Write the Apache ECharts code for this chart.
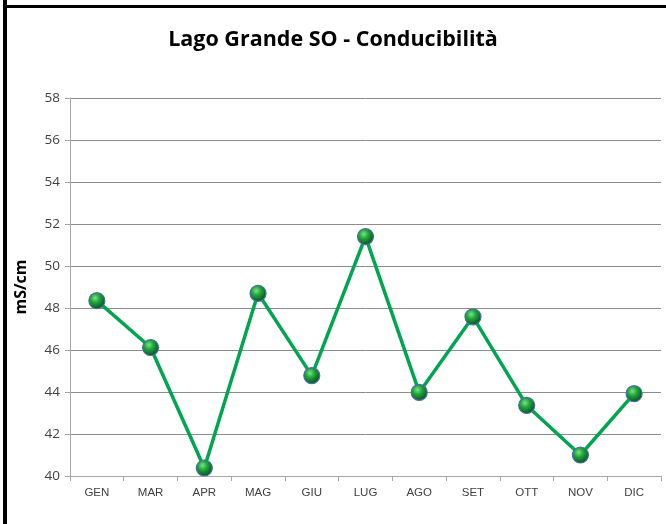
<!DOCTYPE html>
<html>
<head>
<meta charset="utf-8">
<script src="https://cdn.jsdelivr.net/npm/echarts@6/dist/echarts.min.js"></script>
<style>
  html, body { margin: 0; padding: 0; background: #fff; }
  #chart { width: 666px; height: 524px; }
</style>
</head>
<body>
<div id="chart"></div>
<script>
// mesi e conducibilità (mS/cm)
const months = ['GEN', 'MAR', 'APR', 'MAG', 'GIU', 'LUG', 'AGO', 'SET', 'OTT', 'NOV', 'DIC'];
const conductivity = [48.35, 46.12, 40.38, 48.7, 44.78, 51.4, 43.98, 47.58, 43.36, 41.0, 43.92];
const yTicks = { min: 40, max: 58, step: 2 };

const chart = echarts.init(document.getElementById('chart'));

const sphere = new echarts.graphic.RadialGradient(0.4, 0.35, 0.75, [
  { offset: 0, color: '#7fe08a' },
  { offset: 0.35, color: '#1fa83a' },
  { offset: 0.8, color: '#0a5a22' },
  { offset: 1, color: '#08381a' }
]);

chart.setOption({
  animation: false,
  title: {
    text: 'Lago Grande SO - Conducibilità',
    left: 'center',
    top: 24,
    textStyle: { fontFamily: 'Open Sans', fontWeight: 'bold', fontSize: 21.5, color: '#000' }
  },
  grid: { left: 70, right: 5, top: 98, bottom: 48, containLabel: false },
  xAxis: {
    type: 'category',
    data: months,
    boundaryGap: true,
    axisLine: { lineStyle: { color: '#a6a6a6', width: 1 } },
    axisTick: { show: true, length: 5, lineStyle: { color: '#a6a6a6' } },
    axisLabel: { color: '#404040', fontFamily: 'Liberation Sans', fontSize: 11.5, margin: 11 }
  },
  yAxis: {
    type: 'value',
    min: yTicks.min,
    max: yTicks.max,
    interval: yTicks.step,
    name: 'mS/cm',
    nameLocation: 'middle',
    nameRotate: 90,
    nameGap: 41,
    nameTextStyle: { fontFamily: 'Open Sans', fontWeight: 'bold', fontSize: 16, color: '#000' },
    axisLine: { show: true, lineStyle: { color: '#a6a6a6' } },
    axisTick: { show: true, length: 5, lineStyle: { color: '#a6a6a6' } },
    axisLabel: { color: '#404040', fontFamily: 'Open Sans', fontSize: 13.5, margin: 10 },
    splitLine: { lineStyle: { color: '#8c8c8c', width: 1 } }
  },
  series: [{
    type: 'line',
    data: conductivity,
    symbol: 'circle',
    symbolSize: 16,
    lineStyle: { color: '#00a550', width: 3.5 },
    itemStyle: { color: sphere, borderColor: '#4a6fa8', borderWidth: 1.2 },
    z: 3
  }],
  graphic: [
    { type: 'line', shape: { x1: 5, y1: 0, x2: 5, y2: 524 }, style: { stroke: '#000', lineWidth: 4 } },
    { type: 'line', shape: { x1: 3, y1: 6.5, x2: 666, y2: 6.5 }, style: { stroke: '#000', lineWidth: 3 } }
  ]
});
</script>
</body>
</html>
